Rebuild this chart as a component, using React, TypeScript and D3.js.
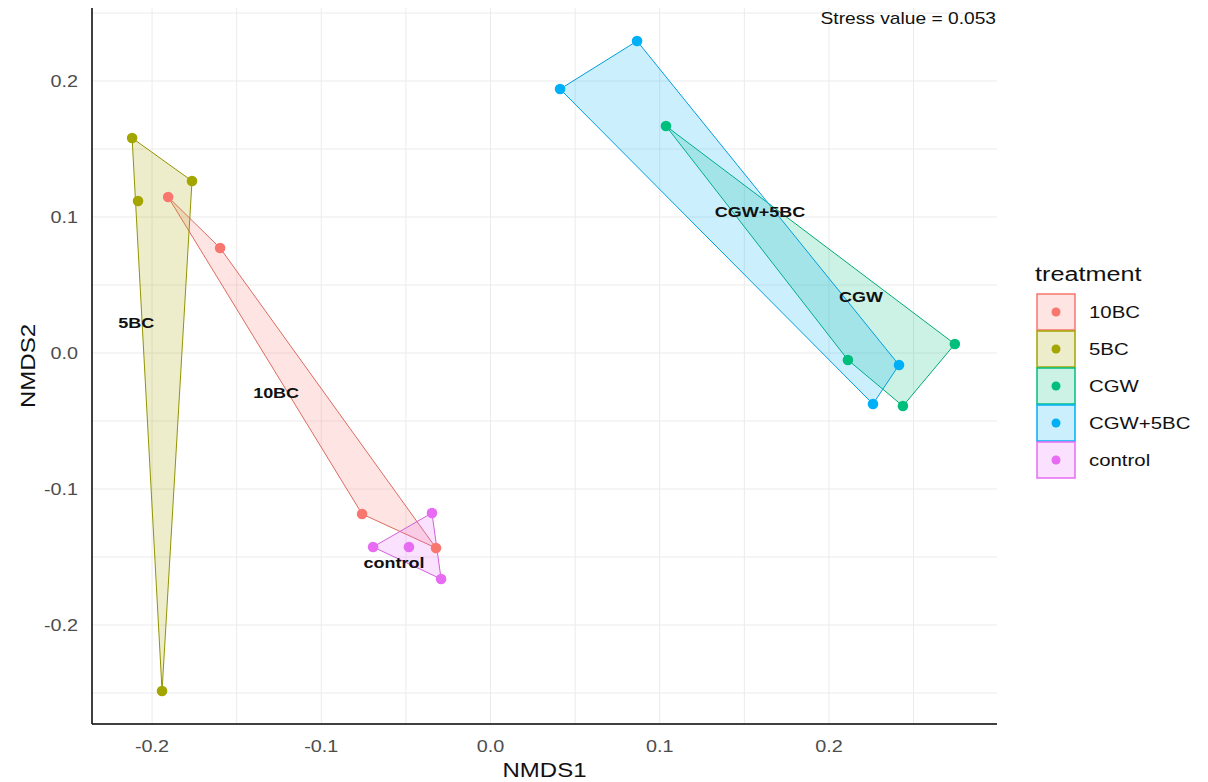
import { useEffect, useRef } from 'react';
import * as d3 from 'd3';

const treatments = ['10BC', '5BC', 'CGW', 'CGW+5BC', 'control'];
const colours = ['#F8766D', '#A3A500', '#00BF7D', '#00B0F6', '#E76BF3'];

// site scores
const siteTreatment = [
  '10BC', '10BC', '10BC', '10BC',
  '5BC', '5BC', '5BC', '5BC',
  'CGW', 'CGW', 'CGW', 'CGW',
  'CGW+5BC', 'CGW+5BC', 'CGW+5BC', 'CGW+5BC',
  'control', 'control', 'control', 'control',
];
const nmds1 = [
  -0.1905, -0.1598, -0.0759, -0.0322,
  -0.2118, -0.1764, -0.2083, -0.1941,
  0.1037, 0.2112, 0.2744, 0.2437,
  0.0866, 0.0411, 0.2414, 0.2260,
  -0.0346, -0.0694, -0.0482, -0.0292,
];
const nmds2 = [
  0.1147, 0.0772, -0.1184, -0.1434,
  0.1581, 0.1265, 0.1118, -0.2485,
  0.1669, -0.0051, 0.0066, -0.0390,
  0.2294, 0.1941, -0.0088, -0.0375,
  -0.1176, -0.1426, -0.1426, -0.1662,
];

// group label positions
const labelText = ['5BC', '10BC', 'control', 'CGW+5BC', 'CGW'];
const labelX = [-0.2094, -0.1267, -0.057, 0.1592, 0.2189];
const labelY = [0.0221, -0.0294, -0.154, 0.1037, 0.0412];

const xTicks = [-0.2, -0.1, 0.0, 0.1, 0.2];
const yTicks = [-0.2, -0.1, 0.0, 0.1, 0.2];
const stressValue = 0.053;

const FONT = '"Liberation Sans", Arial, sans-serif';
const STRETCH = 1.2; // the original's font is wider than Liberation Sans

type Sel = d3.Selection<SVGGElement, unknown, null, undefined> | d3.Selection<SVGSVGElement, unknown, null, undefined>;

function addText(
  parent: Sel, px: number, py: number, str: string,
  opts: { size: number; anchor?: string; weight?: string; fill?: string; dy?: string; rotate?: number }
) {
  const rot = opts.rotate ? ` rotate(${opts.rotate})` : '';
  return (parent as any).append('text')
    .attr('transform', `translate(${px},${py})${rot} scale(${STRETCH},1)`)
    .attr('text-anchor', opts.anchor || 'start')
    .attr('dy', opts.dy || null)
    .attr('font-family', FONT)
    .attr('font-size', opts.size)
    .attr('font-weight', opts.weight || 'normal')
    .attr('fill', opts.fill || '#111')
    .text(str);
}

export default function App() {
  const svgRef = useRef<SVGSVGElement>(null);

  useEffect(() => {
    if (!svgRef.current) return;
    const svg = d3.select(svgRef.current);
    svg.selectAll('*').remove();

    const left = 92, right = 997, top = 8, bottom = 724;

    const x = d3.scaleLinear().domain([-0.2355, 0.2993]).range([left, right]);
    const y = d3.scaleLinear().domain([-0.2728, 0.2537]).range([bottom, top]);
    const colour = d3.scaleOrdinal<string, string>().domain(treatments).range(colours);

    // grid (major + minor)
    const grid = svg.append('g');
    const minorX = d3.range(-0.25, 0.3, 0.05).map(v => +v.toFixed(2)).filter(v => x(v) > left && x(v) < right);
    const minorY = d3.range(-0.25, 0.3, 0.05).map(v => +v.toFixed(2)).filter(v => y(v) > top && y(v) < bottom);
    grid.selectAll('.gx').data(minorX).enter().append('line')
      .attr('x1', d => x(d)).attr('x2', d => x(d)).attr('y1', top).attr('y2', bottom)
      .attr('stroke', '#ebebeb').attr('stroke-width', 1);
    grid.selectAll('.gy').data(minorY).enter().append('line')
      .attr('y1', d => y(d)).attr('y2', d => y(d)).attr('x1', left).attr('x2', right)
      .attr('stroke', '#ebebeb').attr('stroke-width', 1);

    const sites = siteTreatment.map((t, i) => ({ t, x: nmds1[i], y: nmds2[i] }));

    // convex hulls
    const hulls = svg.append('g');
    treatments.forEach(t => {
      const pts = sites.filter(s => s.t === t).map(s => [x(s.x), y(s.y)] as [number, number]);
      const hull = d3.polygonHull(pts);
      if (!hull) return;
      hulls.append('path')
        .attr('d', 'M' + hull.map(p => p.join(',')).join('L') + 'Z')
        .attr('fill', colour(t)).attr('fill-opacity', 0.2)
        .attr('stroke', d3.color(colour(t))!.darker(0.3).toString()).attr('stroke-width', 1);
    });

    // points
    svg.append('g').selectAll('circle').data(sites).enter().append('circle')
      .attr('cx', d => x(d.x)).attr('cy', d => y(d.y)).attr('r', 5.3)
      .attr('fill', d => colour(d.t));

    // group labels
    const lab = svg.append('g');
    labelText.forEach((s, i) => {
      addText(lab, x(labelX[i]), y(labelY[i]), s, { size: 15, anchor: 'middle', weight: 'bold', dy: '0.35em' });
    });

    // axis lines
    svg.append('line').attr('x1', left).attr('x2', left).attr('y1', top).attr('y2', bottom)
      .attr('stroke', '#000').attr('stroke-width', 1.5);
    svg.append('line').attr('x1', left).attr('x2', right).attr('y1', bottom).attr('y2', bottom)
      .attr('stroke', '#000').attr('stroke-width', 1.5);

    // tick labels
    const ticks = svg.append('g');
    xTicks.forEach(v => addText(ticks, x(v), 752, v.toFixed(1), { size: 16.5, anchor: 'middle', fill: '#4d4d4d' }));
    yTicks.forEach(v => addText(ticks, 78, y(v), v.toFixed(1), { size: 16.5, anchor: 'end', fill: '#4d4d4d', dy: '0.35em' }));

    // axis titles
    addText(svg, (left + right) / 2, 777, 'NMDS1', { size: 20, anchor: 'middle' });
    addText(svg, 35, (top + bottom) / 2, 'NMDS2', { size: 20, anchor: 'middle', rotate: -90 });

    // stress annotation
    addText(svg, 996, 24, `Stress value = ${stressValue}`, { size: 16, anchor: 'end' });

    // legend
    const lg = svg.append('g').attr('transform', 'translate(1032,0)');
    addText(lg, 3, 281, 'treatment', { size: 21 });
    treatments.forEach((t, i) => {
      const ky = 294 + i * 37;
      lg.append('rect').attr('x', 5).attr('y', ky).attr('width', 38).attr('height', 36)
        .attr('fill', colour(t)).attr('fill-opacity', 0.2)
        .attr('stroke', colour(t)).attr('stroke-width', 1.5);
      lg.append('circle').attr('cx', 24).attr('cy', ky + 18).attr('r', 4.5).attr('fill', colour(t));
      addText(lg, 57, ky + 18, t, { size: 17, dy: '0.35em' });
    });
  }, []);

  return (
    <svg
      ref={svgRef}
      width={1208}
      height={782}
      style={{ position: 'absolute', left: 0, top: 0, background: '#fff' }}
    />
  );
}
